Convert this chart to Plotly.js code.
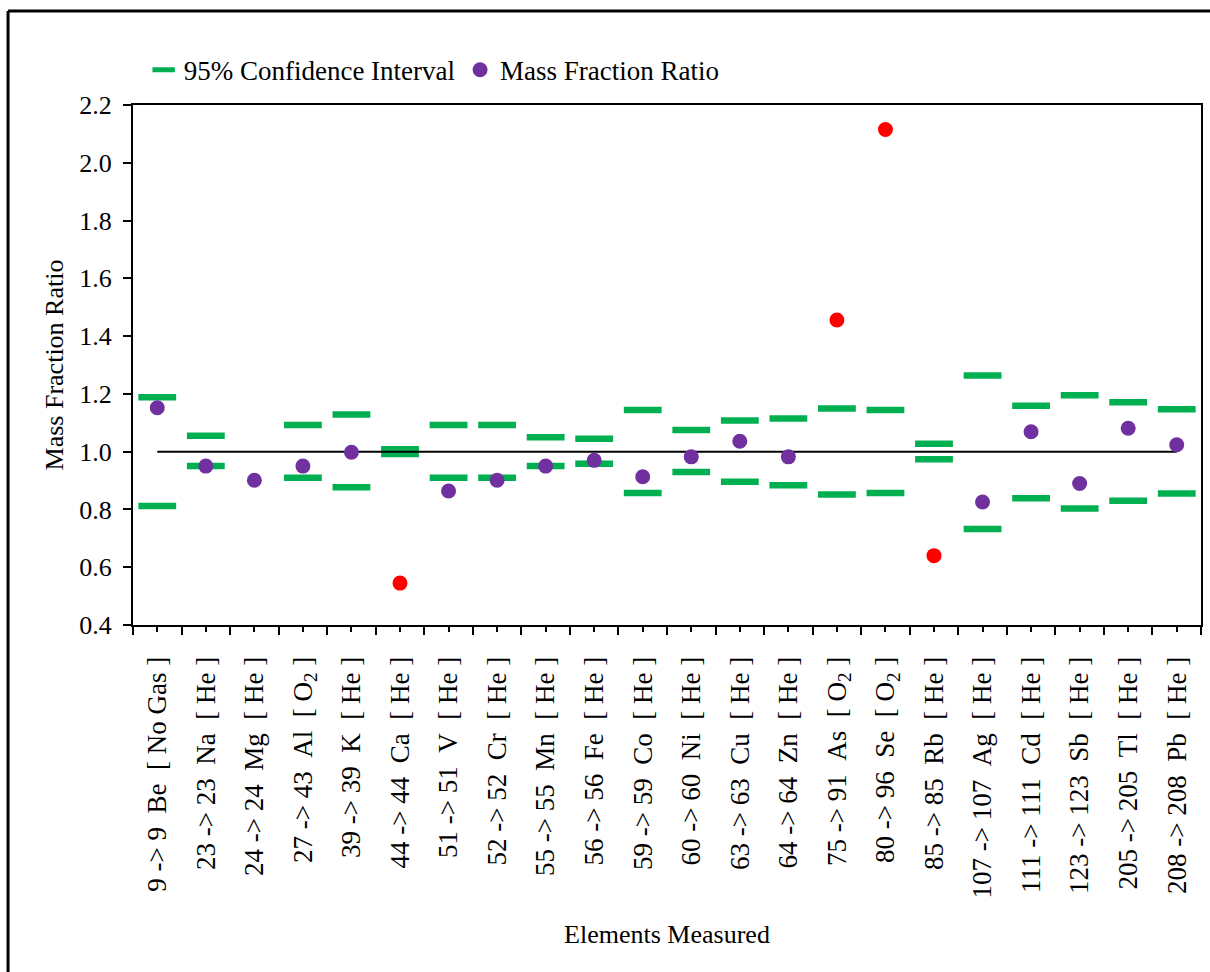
<!DOCTYPE html>
<html>
<head>
<meta charset="utf-8">
<script src="https://cdn.plot.ly/plotly-3.0.1.min.js"></script>
<style>html,body{margin:0;padding:0;background:#fff;}#chart{width:1210px;height:972px;}</style>
</head>
<body>
<div id="chart"></div>
<script>
var S = '\u00A0';
var masses = ['9 -> 9', '23 -> 23', '24 -> 24', '27 -> 43', '39 -> 39', '44 -> 44', '51 -> 51', '52 -> 52', '55 -> 55', '56 -> 56', '59 -> 59', '60 -> 60', '63 -> 63', '64 -> 64', '75 -> 91', '80 -> 96', '85 -> 85', '107 -> 107', '111 -> 111', '123 -> 123', '205 -> 205', '208 -> 208'];
var elements = ['Be', 'Na', 'Mg', 'Al', 'K', 'Ca', 'V', 'Cr', 'Mn', 'Fe', 'Co', 'Ni', 'Cu', 'Zn', 'As', 'Se', 'Rb', 'Ag', 'Cd', 'Sb', 'Tl', 'Pb'];
var gases = ['No Gas', 'He', 'He', 'O<sub>2</sub>', 'He', 'He', 'He', 'He', 'He', 'He', 'He', 'He', 'He', 'He', 'O<sub>2</sub>', 'O<sub>2</sub>', 'He', 'He', 'He', 'He', 'He', 'He'];

var massRatio = [1.152, 0.950, 0.901, 0.950, 0.998, 0.545, 0.864, 0.901, 0.950, 0.970, 0.913, 0.982, 1.036, 0.982, 1.456, 2.115, 0.640, 0.826, 1.069, 0.890, 1.081, 1.024];
var outlier = [false, false, false, false, false, true, false, false, false, false, false, false, false, false, true, true, true, false, false, false, false, false];
var ciUpper = [1.188, 1.055, null, 1.092, 1.129, 1.008, 1.092, 1.092, 1.050, 1.045, 1.144, 1.075, 1.108, 1.115, 1.149, 1.144, 1.027, 1.264, 1.159, 1.195, 1.171, 1.147];
var ciLower = [0.812, 0.950, null, 0.910, 0.877, 0.992, 0.910, 0.910, 0.950, 0.958, 0.857, 0.930, 0.896, 0.884, 0.852, 0.857, 0.974, 0.732, 0.839, 0.803, 0.830, 0.855];
var referenceValue = 1.0;
var yTickVals = [0.4, 0.6, 0.8, 1.0, 1.2, 1.4, 1.6, 1.8, 2.0, 2.2];

var labels = masses.map(function (m, i) {
  return m.replace(/ /g, S) + S + S + elements[i] + S + S + '[' + S + gases[i] + S + ']';
});
var xs = masses.map(function (m, i) { return i + 1; });
var pointColors = outlier.map(function (o) { return o ? '#FF0000' : '#7030A0'; });

var FONT = '"Liberation Serif", "Times New Roman", Times, serif';
var green = '#00B050';

var traces = [
  {x: xs, y: ciUpper, type: 'scatter', mode: 'markers', name: '95% Confidence Interval',
   marker: {symbol: 'line-ew', size: 27, color: green, line: {color: green, width: 6.5}}, hoverinfo: 'y'},
  {x: xs, y: ciLower, type: 'scatter', mode: 'markers', name: '95% Confidence Interval', showlegend: false,
   marker: {symbol: 'line-ew', size: 27, color: green, line: {color: green, width: 6.5}}, hoverinfo: 'y'},
  {x: [xs[0], xs[xs.length - 1]], y: [referenceValue, referenceValue], type: 'scatter', mode: 'lines',
   line: {color: '#000', width: 2}, showlegend: false, hoverinfo: 'skip'},
  {x: xs, y: massRatio, type: 'scatter', mode: 'markers', name: 'Mass Fraction Ratio',
   marker: {symbol: 'circle', size: 15, color: pointColors}, hoverinfo: 'y'}
];

var layout = {
  width: 1210, height: 972,
  margin: {l: 133, r: 9, t: 105, b: 347},
  paper_bgcolor: '#fff', plot_bgcolor: '#fff',
  font: {family: FONT, size: 26, color: '#000'},
  showlegend: true,
  legend: {orientation: 'h', x: 0.01, xanchor: 'left', y: 1.067, yanchor: 'middle',
           font: {family: FONT, size: 27, color: '#000'}, itemwidth: 30, bgcolor: 'rgba(0,0,0,0)'},
  xaxis: {
    range: [0.5, 22.5], tickmode: 'array', tickvals: xs, ticktext: labels, tickangle: -90,
    ticks: 'outside', ticklen: 5, tickwidth: 2, tickcolor: '#000',
    showline: true, linewidth: 2, linecolor: '#000', mirror: true,
    showgrid: false, zeroline: false, ticklabelstandoff: 14,
    tickfont: {family: FONT, size: 27, color: '#000'},
    minor: {tickmode: 'linear', tick0: 0.5, dtick: 1, ticks: 'outside', ticklen: 8, tickwidth: 2, tickcolor: '#000', showgrid: false},
    title: {text: 'Elements Measured', font: {family: FONT, size: 26, color: '#000'}, standoff: 27}
  },
  yaxis: {
    range: [0.4, 2.2], tickmode: 'array', tickvals: yTickVals, tickformat: '.1f',
    ticks: 'outside', ticklen: 8, tickwidth: 2, tickcolor: '#000',
    showline: true, linewidth: 2, linecolor: '#000', mirror: true,
    showgrid: false, zeroline: false, ticklabelstandoff: 6,
    tickfont: {family: FONT, size: 26, color: '#000'},
    title: {text: 'Mass Fraction Ratio', font: {family: FONT, size: 26, color: '#000'}, standoff: 8}
  },
  shapes: [
    {type: 'line', xref: 'paper', yref: 'paper', x0: -0.117, x1: 1.01, y0: 1.1808, y1: 1.1808, line: {color: '#000', width: 3}},
    {type: 'line', xref: 'paper', yref: 'paper', x0: -0.117, x1: -0.117, y0: 1.1808, y1: -0.67, line: {color: '#000', width: 3}}
  ]
};

Plotly.newPlot('chart', traces, layout, {displayModeBar: false, staticPlot: true});
</script>
</body>
</html>
